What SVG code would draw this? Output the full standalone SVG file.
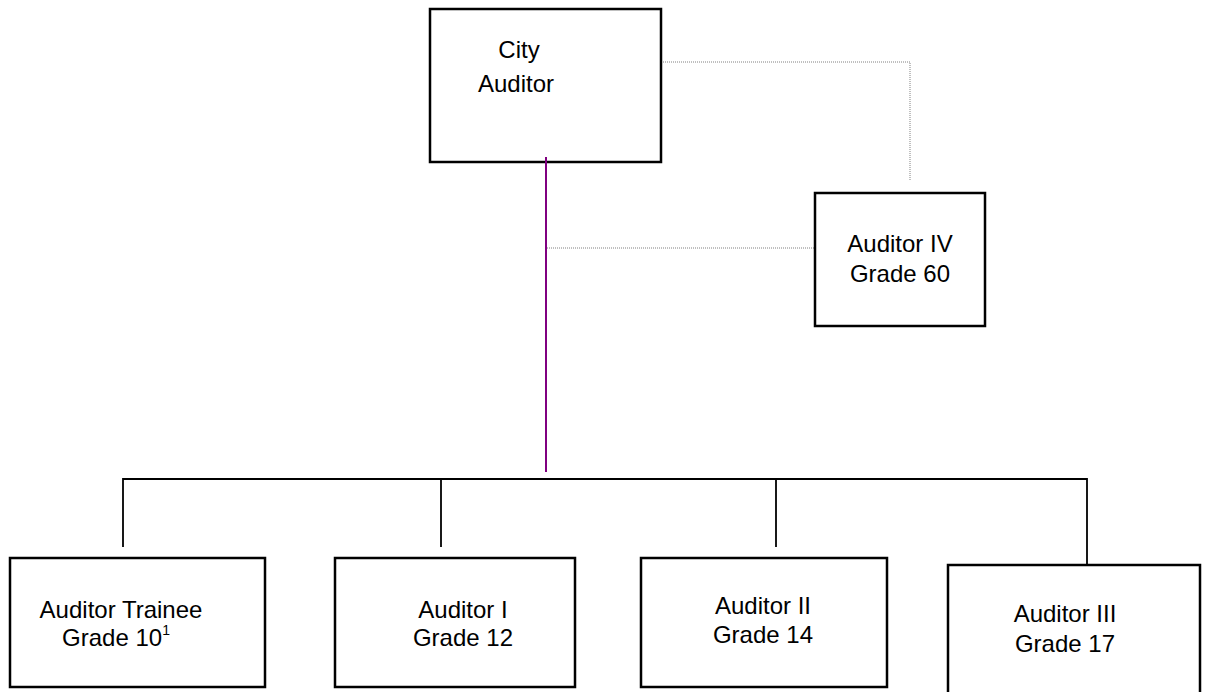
<svg xmlns="http://www.w3.org/2000/svg" width="1209" height="692" viewBox="0 0 1209 692">
<style>
.box{fill:#fff;stroke:#000;stroke-width:2.5}
.t{font-family:"Liberation Sans",Arial,sans-serif;font-size:24px;fill:#000;text-anchor:middle}
.dot{fill:none;stroke:#808080;stroke-width:1;stroke-dasharray:1 1}
.solid{fill:none;stroke:#000;stroke-width:1.8}
.purple{fill:none;stroke:#800080;stroke-width:2}
</style>
<rect width="1209" height="692" fill="#fff"/>
<g id="connectors">
<polyline class="dot" points="661,62 910,62 910,180"/>
<line class="dot" x1="547" y1="248" x2="815" y2="248"/>
<polyline class="solid" points="123,547 123,479 1087,479 1087,567"/>
<line class="solid" x1="441" y1="479" x2="441" y2="547"/>
<line class="solid" x1="776" y1="479" x2="776" y2="547"/>
</g>
<g id="city-auditor">
<rect class="box" x="430" y="9" width="231" height="153"/>
<text class="t" x="519" y="58">City</text>
<text class="t" x="516" y="92">Auditor</text>
</g>
<line class="purple" x1="546" y1="157" x2="546" y2="472"/>
<g id="auditor-iv">
<rect class="box" x="815" y="193" width="170" height="133"/>
<text class="t" x="900" y="252">Auditor IV</text>
<text class="t" x="900" y="282">Grade 60</text>
</g>
<g id="auditor-trainee">
<rect class="box" x="10" y="558" width="255" height="129"/>
<text class="t" x="121" y="618">Auditor Trainee</text>
<text class="t" x="116" y="646">Grade 10<tspan font-size="14" dy="-11">1</tspan></text>
</g>
<g id="auditor-i">
<rect class="box" x="335" y="558" width="240" height="129"/>
<text class="t" x="463" y="618">Auditor I</text>
<text class="t" x="463" y="646">Grade 12</text>
</g>
<g id="auditor-ii">
<rect class="box" x="641" y="558" width="246" height="129"/>
<text class="t" x="763" y="614">Auditor II</text>
<text class="t" x="763" y="643">Grade 14</text>
</g>
<g id="auditor-iii">
<rect class="box" x="948" y="565" width="252" height="130"/>
<text class="t" x="1065" y="622">Auditor III</text>
<text class="t" x="1065" y="652">Grade 17</text>
</g>
</svg>
